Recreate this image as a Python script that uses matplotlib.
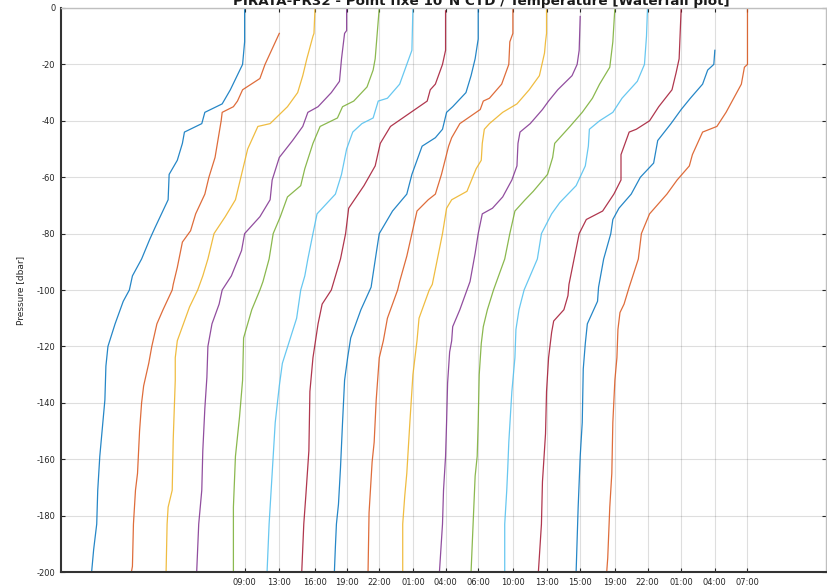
import numpy as np
import matplotlib
matplotlib.use('Agg')
import matplotlib.pyplot as plt

plt.rcParams['axes.unicode_minus'] = False

# profile times (tick labels) and waterfall offsets (degC)
times = ['09:00', '13:00', '16:00', '19:00', '22:00', '01:00', '04:00', '06:00',
         '10:00', '13:00', '15:00', '19:00', '22:00', '01:00', '04:00', '07:00']
offsets = [0, 3.4, 6.9, 10.0, 13.2, 16.5, 19.7, 22.9,
           26.3, 29.6, 32.9, 36.3, 39.5, 42.8, 46.1, 49.3]

# pressure (dbar) and temperature (degC) of each cast
pres_list = [
    [0, 12, 20, 29, 34, 37, 41, 44, 48, 54, 59, 68, 78, 82, 89, 95, 100, 104, 112, 120, 127, 139, 147, 159, 171, 183, 192, 200],
    [9, 20, 25, 29, 33, 35, 37, 40, 53, 60, 66, 73, 79, 83, 92, 98, 100, 107, 112, 120, 126, 134, 140, 150, 165, 171, 183, 198, 200],
    [0, 9, 10, 18, 24, 30, 35, 41, 42, 50, 59, 68, 74, 80, 89, 95, 100, 106, 112, 118, 124, 132, 153, 171, 177, 183, 200],
    [0, 8, 9, 18, 26, 30, 35, 37, 42, 47, 53, 61, 68, 74, 80, 86, 95, 100, 105, 112, 120, 131, 142, 157, 171, 183, 200],
    [0, 18, 22, 28, 33, 35, 39, 42, 48, 57, 63, 67, 74, 80, 89, 97, 100, 107, 117, 132, 145, 159, 177, 200],
    [0, 15, 18, 27, 32, 33, 39, 41, 44, 50, 59, 66, 73, 80, 89, 95, 100, 110, 118, 126, 134, 147, 159, 171, 183, 200],
    [1, 15, 20, 27, 29, 33, 37, 42, 48, 56, 63, 71, 80, 89, 100, 105, 112, 124, 136, 157, 173, 183, 200],
    [0, 11, 18, 24, 30, 35, 37, 43, 46, 49, 59, 66, 72, 80, 87, 99, 107, 117, 124, 132, 147, 163, 176, 183, 191, 200],
    [0, 9, 12, 20, 27, 32, 33, 36, 39, 41, 46, 49, 59, 66, 68, 72, 80, 88, 97, 100, 110, 118, 124, 139, 154, 161, 179, 200],
    [0, 9, 12, 16, 24, 29, 34, 37, 41, 43, 48, 54, 57, 65, 68, 71, 80, 89, 98, 100, 110, 118, 130, 147, 165, 173, 183, 200],
    [3, 15, 20, 24, 29, 33, 36, 41, 44, 48, 56, 61, 67, 71, 73, 80, 87, 97, 100, 107, 113, 118, 122, 133, 147, 159, 171, 183, 200],
    [0, 12, 21, 27, 32, 37, 42, 48, 53, 59, 65, 68, 72, 80, 89, 100, 107, 113, 119, 130, 147, 159, 166, 183, 200],
    [0, 10, 20, 26, 32, 37, 40, 43, 49, 56, 63, 69, 73, 80, 89, 100, 107, 114, 124, 136, 154, 163, 171, 183, 200],
    [0, 18, 23, 29, 35, 40, 43, 44, 49, 52, 61, 66, 72, 75, 80, 89, 98, 102, 107, 111, 115, 124, 136, 151, 168, 183, 200],
    [15, 20, 22, 27, 32, 36, 41, 47, 55, 60, 66, 71, 75, 80, 89, 99, 104, 108, 112, 119, 128, 147, 159, 177, 200],
    [0, 20, 21, 27, 33, 37, 42, 44, 48, 52, 56, 61, 66, 73, 80, 89, 99, 105, 108, 114, 124, 132, 147, 165, 177, 195, 200],
]
temp_list = [
    [28.0, 28.0, 27.8, 26.6, 25.8, 24.1, 23.8, 22.1, 21.9, 21.4, 20.6, 20.5, 19.2, 18.7, 17.9, 17.0, 16.7, 16.1, 15.3, 14.6, 14.4, 14.3, 14.1, 13.8, 13.6, 13.5, 13.2, 13.0],
    [28.0, 26.6, 26.1, 24.4, 23.9, 23.5, 22.4, 22.3, 21.7, 21.1, 20.7, 19.8, 19.3, 18.5, 18.0, 17.6, 17.5, 16.6, 16.0, 15.5, 15.2, 14.7, 14.5, 14.3, 14.1, 13.9, 13.7, 13.6, 13.5],
    [28.0, 27.9, 27.8, 27.2, 26.8, 26.3, 25.3, 23.6, 22.4, 21.4, 20.8, 20.2, 19.2, 18.1, 17.5, 17.0, 16.5, 15.7, 15.1, 14.5, 14.3, 14.3, 14.1, 14.0, 13.6, 13.5, 13.4],
    [28.0, 28.0, 27.8, 27.5, 27.3, 26.5, 25.2, 24.2, 23.7, 22.7, 21.4, 20.7, 20.5, 19.5, 18.0, 17.7, 16.7, 15.8, 15.5, 14.8, 14.4, 14.3, 14.1, 13.9, 13.8, 13.5, 13.3],
    [28.0, 27.6, 27.4, 26.8, 25.5, 24.4, 23.9, 22.2, 21.5, 20.7, 20.3, 19.0, 18.3, 17.6, 17.2, 16.6, 16.3, 15.5, 14.7, 14.6, 14.3, 13.9, 13.7, 13.7],
    [28.0, 27.9, 27.6, 26.7, 25.5, 24.6, 24.1, 23.0, 22.1, 21.5, 21.0, 20.4, 18.6, 18.2, 17.7, 17.4, 17.0, 16.6, 15.9, 15.2, 14.9, 14.5, 14.3, 14.1, 13.9, 13.7],
    [28.0, 28.0, 27.7, 27.0, 26.5, 26.2, 24.6, 22.6, 21.6, 21.1, 20.0, 18.5, 18.2, 17.7, 16.8, 15.9, 15.5, 15.0, 14.7, 14.6, 14.3, 14.1, 13.9],
    [28.0, 28.0, 27.7, 27.3, 26.8, 25.5, 24.9, 24.5, 23.8, 22.5, 21.5, 21.0, 19.6, 18.3, 18.0, 17.5, 16.5, 15.5, 15.2, 14.9, 14.7, 14.5, 14.3, 14.1, 14.0, 13.9],
    [28.0, 28.0, 27.7, 27.6, 26.9, 25.7, 25.1, 24.8, 23.6, 22.8, 22.0, 21.7, 21.0, 20.4, 19.7, 18.6, 18.1, 17.6, 16.9, 16.7, 15.7, 15.3, 14.9, 14.6, 14.4, 14.2, 13.9, 13.8],
    [28.0, 28.0, 27.9, 27.8, 27.3, 26.3, 25.1, 23.7, 22.4, 21.9, 21.7, 21.6, 21.1, 20.2, 18.7, 18.2, 17.8, 17.3, 16.8, 16.5, 15.5, 15.3, 14.9, 14.6, 14.3, 14.1, 13.9, 13.9],
    [28.0, 27.9, 27.7, 27.2, 25.8, 24.9, 24.3, 23.1, 22.1, 21.9, 21.8, 21.3, 20.4, 19.4, 18.4, 18.0, 17.7, 17.2, 16.9, 16.2, 15.5, 15.4, 15.2, 15.0, 14.9, 14.8, 14.6, 14.5, 14.2],
    [28.0, 27.8, 27.5, 26.5, 25.8, 24.8, 23.6, 22.1, 21.9, 21.4, 20.0, 19.2, 18.2, 17.7, 17.2, 16.1, 15.5, 15.1, 14.9, 14.7, 14.6, 14.5, 14.3, 14.1, 13.9],
    [28.0, 27.9, 27.7, 27.0, 25.5, 24.6, 23.3, 22.3, 22.2, 21.9, 21.0, 19.4, 18.6, 17.6, 17.2, 15.9, 15.4, 15.1, 15.0, 14.7, 14.4, 14.3, 14.2, 14.0, 14.0],
    [28.0, 27.8, 27.5, 27.1, 25.8, 24.9, 23.6, 22.9, 22.4, 22.1, 22.1, 21.4, 20.3, 18.7, 18.0, 17.5, 17.0, 16.9, 16.5, 15.5, 15.3, 15.0, 14.8, 14.7, 14.4, 14.3, 14.0],
    [28.0, 27.9, 27.3, 26.8, 25.6, 24.7, 23.7, 22.4, 22.0, 20.7, 19.8, 18.6, 18.0, 17.8, 17.1, 16.6, 16.5, 16.0, 15.5, 15.3, 15.1, 15.0, 14.8, 14.6, 14.4],
    [28.0, 28.0, 27.7, 27.4, 26.5, 25.9, 25.0, 23.6, 23.1, 22.6, 22.3, 21.1, 20.1, 18.4, 17.6, 17.3, 16.4, 15.9, 15.5, 15.3, 15.2, 15.0, 14.8, 14.7, 14.5, 14.3, 14.2],
]

# matlab default colour order
colors = [(0, 0.447, 0.741), (0.850, 0.325, 0.098), (0.929, 0.694, 0.125),
          (0.494, 0.184, 0.556), (0.466, 0.674, 0.188), (0.301, 0.745, 0.933),
          (0.635, 0.078, 0.184)]

fig = plt.figure(figsize=(8.28, 5.88), dpi=100)
ax = fig.add_axes([0.0737, 0.0272, 0.9239, 0.9592])

ticks = []
for i in range(len(pres_list)):
    x = np.array(temp_list[i]) + offsets[i]
    y = -np.array(pres_list[i])
    ax.plot(x, y, color=colors[i % 7], lw=0.9, alpha=0.85)
    ticks.append(temp_list[i][0] + offsets[i])

ax.set_xlim(10, 85)
ax.set_ylim(-200, 0)
ax.set_xticks(ticks)
ax.set_xticklabels(times)
ax.set_yticks(np.arange(-200, 1, 20))
ax.set_yticklabels([str(v) for v in np.arange(-200, 1, 20)])
ax.grid(True, color='0.15', alpha=0.15, lw=0.8)
ax.tick_params(direction='in', top=True, right=True, length=3, labelsize=6,
               colors='0.15', pad=4)
for s in ['left', 'bottom']:
    ax.spines[s].set_color('0.2')
    ax.spines[s].set_linewidth(1.5)
for s in ['top', 'right']:
    ax.spines[s].set_color('0.75')
    ax.spines[s].set_linewidth(1.0)
ax.set_ylabel('Pressure [dbar]', fontsize=6.5, color='0.15', labelpad=8)

fig.text(0.581, 0.997, 'PIRATA-FR32 - Point fixe 10°N CTD / Temperature [Waterfall plot]',
         ha='center', va='center', fontsize=9.7, fontweight='bold', color='0.1')

fig.savefig('out.png', dpi=100)
